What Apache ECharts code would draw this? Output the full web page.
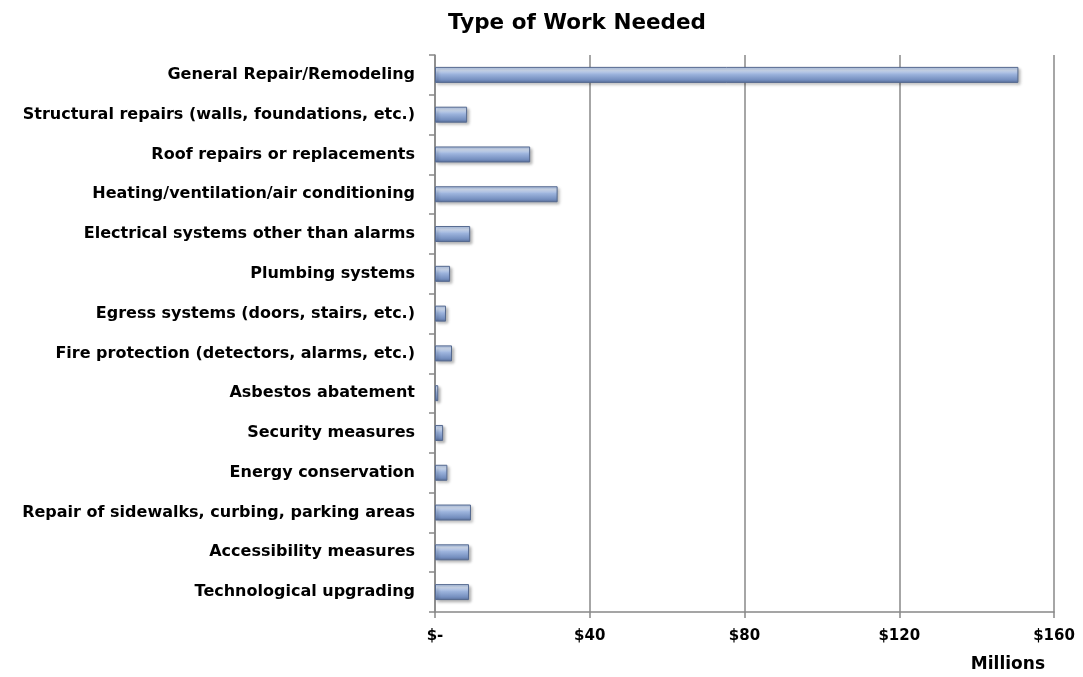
<!DOCTYPE html>
<html>
<head>
<meta charset="utf-8">
<script src="https://cdn.jsdelivr.net/npm/echarts@6/dist/echarts.min.js"></script>
<style>html,body{margin:0;padding:0;background:#fff;}#c{width:1083px;height:677px;}</style>
</head>
<body>
<div id="c"></div>
<script>
var categories = [
  "General Repair/Remodeling",
  "Structural repairs (walls, foundations, etc.)",
  "Roof repairs or replacements",
  "Heating/ventilation/air conditioning",
  "Electrical systems other than alarms",
  "Plumbing systems",
  "Egress systems (doors, stairs, etc.)",
  "Fire protection (detectors, alarms, etc.)",
  "Asbestos abatement",
  "Security measures",
  "Energy conservation",
  "Repair of sidewalks, curbing, parking areas",
  "Accessibility measures",
  "Technological upgrading"
];
var values = [150.8, 8.3, 24.6, 31.7, 9.1, 3.9, 2.85, 4.4, 0.85, 2.1, 3.2, 9.3, 8.8, 8.8];
var xTicks = [0, 40, 80, 120, 160];

var chart = echarts.init(document.getElementById('c'));
var font = 'DejaVu Sans';
chart.setOption({
  animation: false,
  title: {
    text: 'Type of Work Needed',
    left: 572, top: 7, textAlign: 'center',
    textStyle: {fontFamily: font, fontWeight: 'bold', fontSize: 21.5, color: '#000'}
  },
  grid: {left: 435, right: 29, top: 55, bottom: 65, containLabel: false},
  xAxis: {
    type: 'value', min: 0, max: 160, interval: 40,
    name: 'Millions', nameLocation: 'end',
    nameGap: 0,
    nameTextStyle: {fontFamily: font, fontWeight: 'bold', fontSize: 17, color: '#000', align: 'right', verticalAlign: 'top', padding: [44, 9, 0, 0]},
    axisLine: {show: true, lineStyle: {color: '#888', width: 1.5}},
    axisTick: {show: true, length: 6, lineStyle: {color: '#888', width: 1.5}},
    axisLabel: {
      fontFamily: font, fontWeight: 'bold', fontSize: 15, color: '#000', margin: 17,
      formatter: function (v) { return v === 0 ? '$-' : '$' + v; }
    },
    splitLine: {show: true, lineStyle: {color: '#888', width: 1.5}}
  },
  yAxis: {
    type: 'category', inverse: true, data: categories,
    axisLine: {show: true, lineStyle: {color: '#888', width: 1.5}},
    axisTick: {show: true, length: 6, lineStyle: {color: '#888', width: 1.5}},
    axisLabel: {fontFamily: font, fontWeight: 'bold', fontSize: 16, color: '#000', margin: 20}
  },
  series: [{
    type: 'bar', data: values, barWidth: 16,
    itemStyle: {
      color: new echarts.graphic.LinearGradient(0, 0, 0, 1, [
        {offset: 0, color: '#a9bfe3'},
        {offset: 0.2, color: '#d2def2'},
        {offset: 0.45, color: '#9db4dd'},
        {offset: 0.8, color: '#7690c0'},
        {offset: 1, color: '#5a709c'}
      ]),
      borderColor: '#55698f', borderWidth: 1,
      shadowColor: 'rgba(0,0,0,0.3)', shadowBlur: 3, shadowOffsetX: 2, shadowOffsetY: 2
    }
  }]
});
</script>
</body>
</html>
